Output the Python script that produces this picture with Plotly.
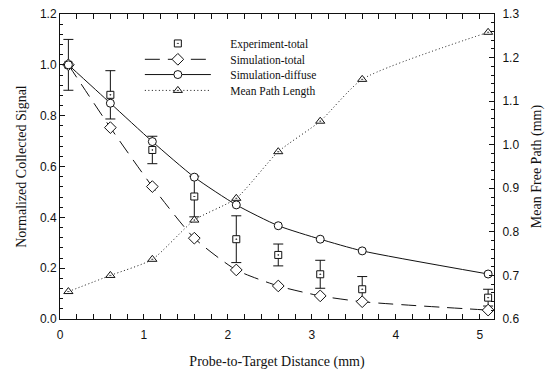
import plotly.graph_objects as go

# Probe-to-target distance (mm)
distance = [0.1, 0.6, 1.1, 1.6, 2.1, 2.6, 3.1, 3.6, 5.1]

# Normalized collected signal
experiment_total = [1.0, 0.882, 0.665, 0.482, 0.314, 0.252, 0.176, 0.117, 0.084]
experiment_err = [0.10, 0.095, 0.054, 0.08, 0.092, 0.043, 0.055, 0.05, 0.033]
simulation_total = [1.0, 0.753, 0.521, 0.318, 0.193, 0.130, 0.091, 0.068, 0.035]
simulation_diffuse = [1.0, 0.849, 0.698, 0.558, 0.449, 0.367, 0.314, 0.268, 0.177]

# Mean free path (mm), right axis
mean_path_length = [0.663, 0.700, 0.737, 0.827, 0.877, 0.984, 1.054, 1.150, 1.258]

left_ticks = [0.0, 0.2, 0.4, 0.6, 0.8, 1.0, 1.2]
right_ticks = [0.6, 0.7, 0.8, 0.9, 1.0, 1.1, 1.2, 1.3]
x_ticks = [0, 1, 2, 3, 4, 5]

SERIF = "Liberation Serif, Times New Roman, serif"
SANS = "Liberation Sans, Arial, sans-serif"
INK = "#111111"
NB = "\u00a0" * 5  # gap between legend sample and its label

fig = go.Figure()

fig.add_trace(go.Scatter(
    x=distance, y=experiment_total, name=NB + "Experiment-total",
    mode="markers", legend="legend",
    marker=dict(symbol="square-dot", size=7, color="white",
                line=dict(color=INK, width=1)),
    error_y=dict(type="data", array=experiment_err, color=INK,
                 thickness=1, width=5),
))

fig.add_trace(go.Scatter(
    x=distance, y=simulation_total, name=NB + "Simulation-total",
    mode="lines+markers", legend="legend2",
    line=dict(color=INK, width=1, dash="15px,8px", shape="spline", smoothing=0.6),
    marker=dict(symbol="diamond", size=9, color="white",
                line=dict(color=INK, width=1)),
))

fig.add_trace(go.Scatter(
    x=distance, y=simulation_diffuse, name=NB + "Simulation-diffuse",
    mode="lines+markers", legend="legend3",
    line=dict(color=INK, width=1, shape="spline", smoothing=0.6),
    marker=dict(symbol="circle", size=8, color="white",
                line=dict(color=INK, width=1)),
))

fig.add_trace(go.Scatter(
    x=distance, y=mean_path_length, name=NB + "Mean Path Length",
    mode="lines+markers", yaxis="y2", legend="legend4",
    line=dict(color=INK, width=1, dash="1px,2.5px", shape="spline", smoothing=0.6),
    marker=dict(symbol="triangle-up-dot", size=8, color="white",
                line=dict(color=INK, width=1)),
))

axis_common = dict(
    showline=True, linecolor=INK, linewidth=1,
    ticks="inside", ticklen=5, tickwidth=1, tickcolor=INK,
    showgrid=False, zeroline=False, automargin=False,
    tickfont=dict(family=SANS, size=12, color=INK),
    title_font=dict(family=SERIF, size=14, color=INK),
)


def legend_box(y_top):
    return dict(
        x=0.184, y=y_top, xanchor="left", yanchor="top",
        bgcolor="rgba(0,0,0,0)", borderwidth=0,
        font=dict(family=SERIF, size=11.5, color=INK),
        itemwidth=66,
    )


fig.update_layout(
    width=547, height=371,
    margin=dict(l=60, r=53, t=14, b=52),
    paper_bgcolor="white", plot_bgcolor="white",
    showlegend=True,
    legend=legend_box(0.951),
    legend2=legend_box(0.899),
    legend3=legend_box(0.849),
    legend4=legend_box(0.797),
    xaxis=dict(
        axis_common,
        range=[0, 5.17], tickvals=x_ticks, ticktext=[str(v) for v in x_ticks],
        mirror="allticks", ticklabelstandoff=5,
        minor=dict(dtick=0.2, ticks="inside", ticklen=3, tickcolor=INK, showgrid=False),
        title=dict(text="Probe-to-Target Distance (mm)", standoff=14),
    ),
    yaxis=dict(
        axis_common,
        range=[0, 1.2], tickvals=left_ticks, ticktext=[f"{v:.1f}" for v in left_ticks],
        minor=dict(dtick=0.04, ticks="inside", ticklen=3, tickcolor=INK, showgrid=False),
        title=dict(text="Normalized Collected Signal", standoff=10),
    ),
    yaxis2=dict(
        axis_common,
        overlaying="y", side="right", ticklabelstandoff=5,
        range=[0.6, 1.3], tickvals=right_ticks, ticktext=[f"{v:.1f}" for v in right_ticks],
        minor=dict(dtick=0.02, ticks="inside", ticklen=3, tickcolor=INK, showgrid=False),
        title=dict(text="Mean Free Path (mm)", standoff=12),
    ),
)

fig.write_html("out.html")
